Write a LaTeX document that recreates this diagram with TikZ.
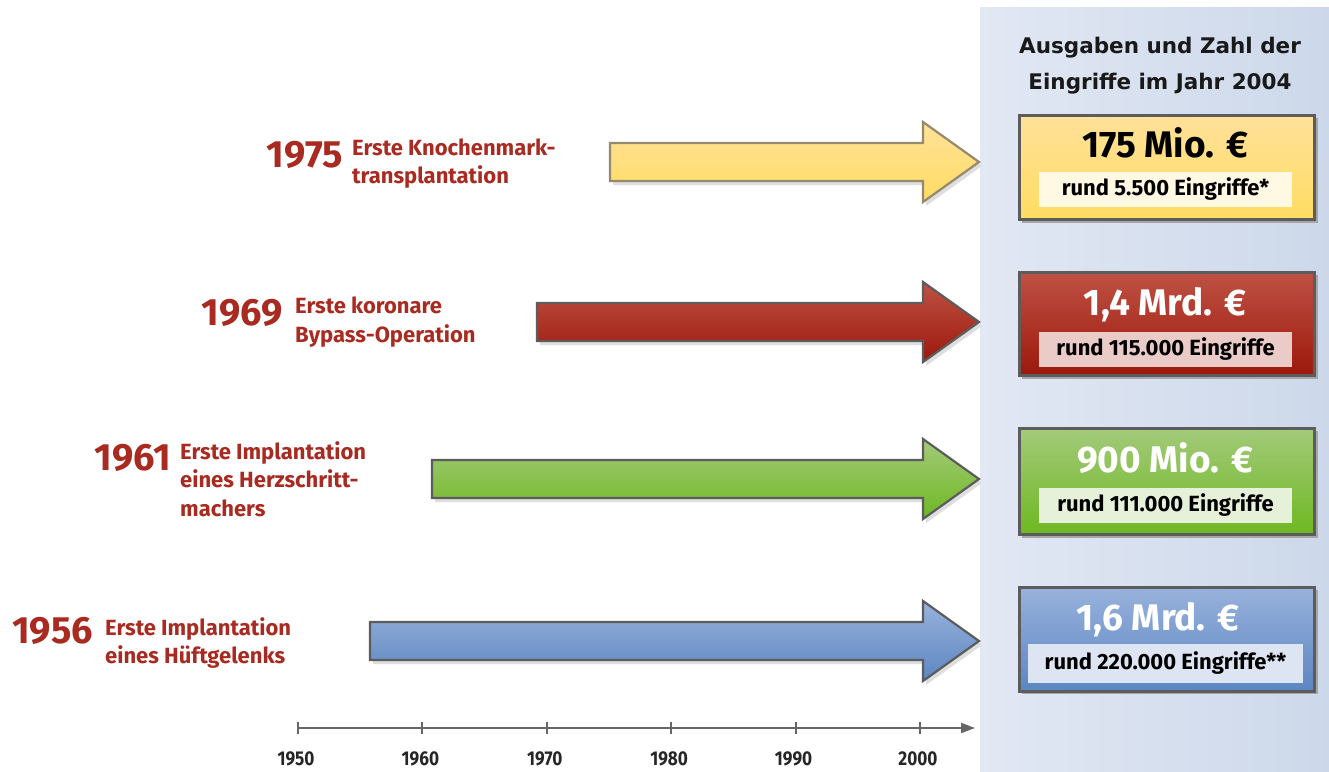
\documentclass[tikz,border=0pt]{standalone}
\usepackage{fontspec}
\setmainfont{Fira Sans}
\newfontfamily\condf[FakeStretch=0.86]{Fira Sans}
\newfontfamily\headf{DejaVu Sans}
\usetikzlibrary{arrows.meta}
\definecolor{labred}{HTML}{A82A20}
\definecolor{panelL}{HTML}{E2E8F4}
\definecolor{panelR}{HTML}{CCD8EA}
\definecolor{yA}{HTML}{FFE19A}
\definecolor{yB}{HTML}{FFDC62}
\definecolor{yBorder}{HTML}{968A6E}
\definecolor{rA}{HTML}{BE5244}
\definecolor{rB}{HTML}{9C180C}
\definecolor{gA}{HTML}{A3CA7A}
\definecolor{gB}{HTML}{6EB822}
\definecolor{bA}{HTML}{98B2DC}
\definecolor{bB}{HTML}{5C86C1}
\definecolor{frame}{HTML}{5C5C5C}
\definecolor{subY}{HTML}{FFF8E2}
\definecolor{subR}{HTML}{EACBC7}
\definecolor{subG}{HTML}{E5F1D8}
\definecolor{subB}{HTML}{DDE5F3}
\newcommand\tlarrow[5]{%
  \fill[black!13] ({#1+3},{#2-15}) -- ({926},{#2-15}) -- ({926},{#2-36}) -- ({982},{#2+4}) -- ({926},{#2+44}) -- ({926},{#2+23}) -- ({#1+3},{#2+23}) -- cycle;
  \shade[top color=#3, bottom color=#4, draw=#5, line width=2.2pt] (#1,{#2-19}) -- (923,{#2-19}) -- (923,{#2-40}) -- (979,#2) -- (923,{#2+40}) -- (923,{#2+19}) -- (#1,{#2+19}) -- cycle;
}
\tikzset{
  year/.style={text=labred, font=\bfseries\fontsize{38}{40}\selectfont, inner sep=0pt, anchor=base east},
  desc/.style={text=labred, font=\bfseries\fontsize{22}{28.5}\selectfont, inner sep=0pt, align=left, anchor=base west},
  head/.style={text=black!90, font=\headf\bfseries\fontsize{21.5}{36}\selectfont, inner sep=0pt, align=center, anchor=base},
  valbox/.style={rectangle, draw=frame, line width=2.5pt, minimum width=295pt, inner sep=0pt, anchor=north west},
  boxshadow/.style={fill=black!35},
  valtext/.style={font=\bfseries\fontsize{37}{40}\selectfont, inner sep=0pt, anchor=base},
  subbox/.style={rectangle, inner sep=0pt, text=black, font=\bfseries\fontsize{22}{24}\selectfont},
  axisline/.style={draw=black!60, line width=2pt},
  yrlbl/.style={text=black!85, font=\condf\bfseries\fontsize{20}{22}\selectfont, inner sep=0pt, anchor=base}
}
\begin{document}
\begin{tikzpicture}[x=1pt,y=-1pt]
\useasboundingbox (0,0) rectangle (1329,771);
\fill[white] (0,0) rectangle (1329,771);
% panel
\shade[left color=panelL, right color=panelR] (980,7) rectangle (1329,771);

% arrows
\tlarrow{610}{162}{yA}{yB}{yBorder}
\tlarrow{537}{322}{rA}{rB}{frame}
\tlarrow{432}{479}{gA}{gB}{frame}
\tlarrow{370}{641}{bA}{bB}{frame}

% left labels (base anchor = baseline of the last line)
\node[year] (y1) at (343,167) {1975};
\node[desc] (d1) at (352,183.5) {Erste Knochenmark-\\transplantation};
\node[year] (y2) at (283,325) {1969};
\node[desc] (d2) at (295,342) {Erste koronare\\Bypass-Operation};
\node[year] (y3) at (171,470) {1961};
\node[desc] (d3) at (180,516) {Erste Implantation\\eines Herzschritt-\\machers};
\node[year] (y4) at (93,643) {1956};
\node[desc] (d4) at (105,663.5) {Erste Implantation\\eines Hüftgelenks};

% heading
\node[head] (h) at (1160,89) {Ausgaben und Zahl der\\Eingriffe im Jahr 2004};

% box 1
\fill[boxshadow] (1022,118) rectangle (1318,223);
\node[valbox, minimum height=104pt, top color=yA, bottom color=yB] (b1) at (1018,114) {};
\node[valtext, text=black] (v1) at (1165,157) {175 Mio. €};
\node[subbox, fill=subY, minimum width=253pt, minimum height=35pt] (s1) at (1165.5,189.5) {rund 5.500 Eingriffe*};
% box 2
\fill[boxshadow] (1022,275) rectangle (1318,379);
\node[valbox, minimum height=103pt, top color=rA, bottom color=rB] (b2) at (1018,271) {};
\node[valtext, text=white] (v2) at (1165,315) {1,4 Mrd. €};
\node[subbox, fill=subR, minimum width=253pt, minimum height=35pt] (s2) at (1165.5,349.5) {rund 115.000 Eingriffe};
% box 3
\fill[boxshadow] (1022,431) rectangle (1318,538);
\node[valbox, minimum height=106pt, top color=gA, bottom color=gB] (b3) at (1018,427) {};
\node[valtext, text=white] (v3) at (1165,472) {900 Mio. €};
\node[subbox, fill=subG, minimum width=253pt, minimum height=35pt] (s3) at (1165.5,505.5) {rund 111.000 Eingriffe};
% box 4
\fill[boxshadow] (1022,590) rectangle (1318,694);
\node[valbox, minimum height=104pt, top color=bA, bottom color=bB] (b4) at (1018,586) {};
\node[valtext, text=white] (v4) at (1158,630) {1,6 Mrd. €};
\node[subbox, fill=subB, minimum width=275pt, minimum height=39pt] (s4) at (1165.5,663.5) {rund 220.000 Eingriffe**};

% axis
\coordinate (ax0) at (298,728);
\coordinate (ax1) at (975,728);
\draw[axisline, -{Triangle[length=14pt,width=10pt]}] (ax0) -- (ax1);
\foreach \yr [count=\i from 0] in {1950,1960,1970,1980,1990,2000} {
  \draw[axisline] ({298+\i*124.4},722) -- ++(0,12);
  \node[yrlbl] (t\yr) at ({296+\i*124.4},765) {\yr};
}
\end{tikzpicture}
\end{document}
